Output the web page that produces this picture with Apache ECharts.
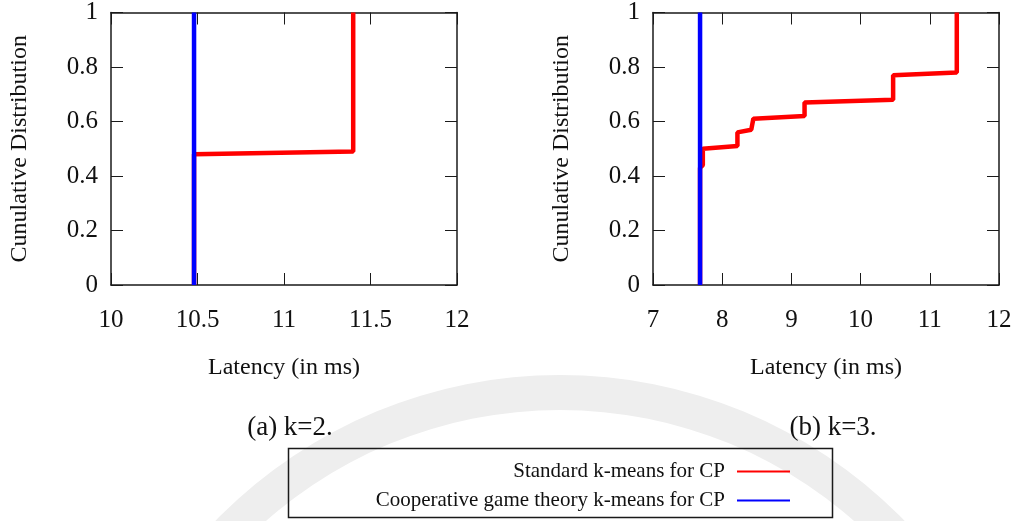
<!DOCTYPE html>
<html>
<head>
<meta charset="utf-8">
<script src="https://cdn.jsdelivr.net/npm/echarts@6/dist/echarts.min.js"></script>
<style>
html,body{margin:0;padding:0;background:#fff;}
#chart{width:1018px;height:521px;}
</style>
</head>
<body>
<div id="chart"></div>
<script>
// ---- data ----
const seriesNames = ['Standard k-means for CP', 'Cooperative game theory k-means for CP'];
const captions = ['(a) k=2.', '(b) k=3.'];
const xRangeK2 = [10, 12, 0.5];
const xRangeK3 = [7, 12, 1];
const yRange = [0, 1, 0.2];
// CDF points [latency ms, cumulative fraction]
const stdK2 = [[10.48, 0], [10.48, 0.48], [11.40, 0.49], [11.40, 1]];
const coopK2 = [[10.48, 0], [10.48, 1]];
const stdK3 = [[7.68, 0], [7.68, 0.43], [7.72, 0.44], [7.72, 0.50], [8.22, 0.51], [8.22, 0.56],
               [8.42, 0.57], [8.45, 0.61], [9.19, 0.62], [9.19, 0.67], [10.47, 0.68], [10.47, 0.77],
               [11.39, 0.78], [11.39, 1]];
const coopK3 = [[7.68, 0], [7.68, 1]];

const FONT = 'Liberation Serif';
const AX = '#1a1a1a';
const chart = echarts.init(document.getElementById('chart'), null, {renderer: 'canvas'});

function xAx(grid, range, pos, withName) {
  return {
    type: 'value', gridIndex: grid, position: pos,
    min: range[0], max: range[1], interval: range[2],
    axisLine: {show: true, onZero: false, lineStyle: {color: AX, width: 1.5}},
    axisTick: {show: true, inside: true, length: 12, lineStyle: {color: AX, width: 1}},
    axisLabel: {show: pos === 'bottom', margin: 23, color: '#111', fontFamily: FONT, fontSize: 25},
    splitLine: {show: false},
    name: withName ? 'Latency (in ms)' : '',
    nameLocation: 'middle', nameGap: 71,
    nameTextStyle: {color: '#111', fontFamily: FONT, fontSize: 24}
  };
}
function yAx(grid, pos, withName) {
  return {
    type: 'value', gridIndex: grid, position: pos,
    min: yRange[0], max: yRange[1], interval: yRange[2],
    axisLine: {show: true, onZero: false, lineStyle: {color: AX, width: 1.5}},
    axisTick: {show: true, inside: true, length: 12, lineStyle: {color: AX, width: 1}},
    axisLabel: {show: pos === 'left', margin: 13, color: '#111', fontFamily: FONT, fontSize: 25,
                formatter: v => String(+v.toFixed(1))},
    splitLine: {show: false},
    name: withName ? 'Cunulative Distribution' : '',
    nameLocation: 'middle', nameRotate: 90, nameGap: 79,
    nameTextStyle: {color: '#111', fontFamily: FONT, fontSize: 24}
  };
}
function line(name, data, xi, yi, color) {
  return {
    type: 'line', name: name, data: data, xAxisIndex: xi, yAxisIndex: yi,
    showSymbol: false, symbol: 'none', animation: false,
    lineStyle: {color: color, width: 4.5}, itemStyle: {color: color},
    clip: false
  };
}

const option = {
  backgroundColor: '#fff',
  animation: false,
  grid: [
    {left: 111, top: 12, width: 346, height: 273},
    {left: 653, top: 12, width: 346, height: 273}
  ],
  xAxis: [
    xAx(0, xRangeK2, 'bottom', true), xAx(0, xRangeK2, 'top', false),
    xAx(1, xRangeK3, 'bottom', true), xAx(1, xRangeK3, 'top', false)
  ],
  yAxis: [
    yAx(0, 'left', true), yAx(0, 'right', false),
    yAx(1, 'left', true), yAx(1, 'right', false)
  ],
  legend: [
    {data: [seriesNames[0]], right: 223, top: 456, orient: 'vertical', align: 'right',
     icon: 'rect', itemWidth: 53, itemHeight: 2, selectedMode: false,
     textStyle: {fontFamily: FONT, fontSize: 21, color: '#111', padding: [0, 7, 0, 0]}},
    {data: [seriesNames[1]], right: 223, top: 485, orient: 'vertical', align: 'right',
     icon: 'rect', itemWidth: 53, itemHeight: 2, selectedMode: false,
     textStyle: {fontFamily: FONT, fontSize: 21, color: '#111', padding: [0, 7, 0, 0]}}
  ],
  graphic: [
    {type: 'ring', z: -10, silent: true, shape: {cx: 560, cy: 855, r: 480, r0: 445},
     style: {fill: '#eeeeee'}},
    {type: 'rect', z: 5, shape: {x: 288.5, y: 448.5, width: 544, height: 69},
     style: {fill: 'rgba(255,255,255,0)', stroke: AX, lineWidth: 1.5}},
    {type: 'text', z: 5, x: 290, y: 428,
     style: {text: captions[0], font: '27px "Liberation Serif"', fill: '#111',
             textAlign: 'center', textVerticalAlign: 'middle'}},
    {type: 'text', z: 5, x: 833, y: 428,
     style: {text: captions[1], font: '27px "Liberation Serif"', fill: '#111',
             textAlign: 'center', textVerticalAlign: 'middle'}}
  ],
  series: [
    line(seriesNames[0], stdK2, 0, 0, '#ff0000'),
    line(seriesNames[1], coopK2, 0, 0, '#0000ff'),
    line(seriesNames[0], stdK3, 2, 2, '#ff0000'),
    line(seriesNames[1], coopK3, 2, 2, '#0000ff')
  ]
};
chart.setOption(option);
</script>
</body>
</html>
